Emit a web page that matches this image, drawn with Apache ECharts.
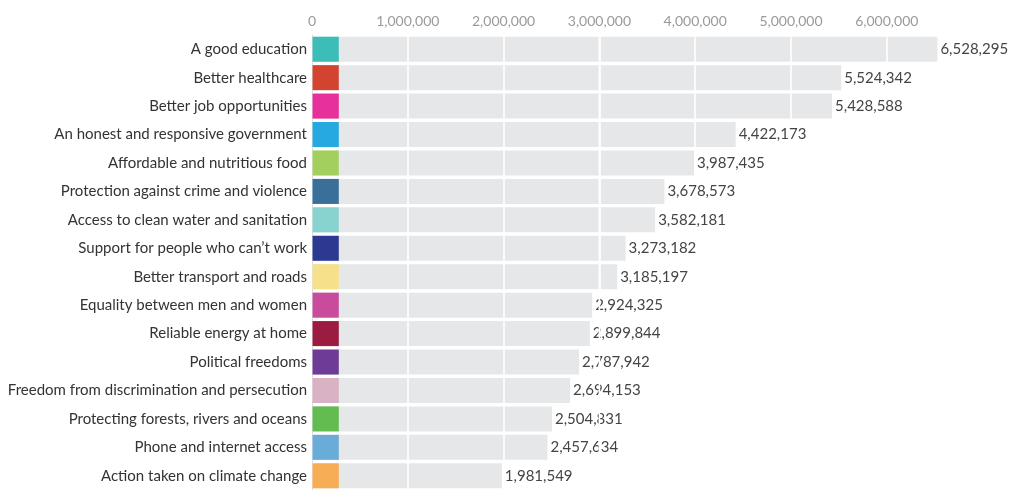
<!DOCTYPE html>
<html>
<head>
<meta charset="utf-8">
<script src="https://cdn.jsdelivr.net/npm/echarts@6/dist/echarts.min.js"></script>
<style>
html,body{margin:0;padding:0;background:#fff;}
#chart{width:1009px;height:490px;}
</style>
</head>
<body>
<div id="chart"></div>
<script>
var categories = [
  "A good education",
  "Better healthcare",
  "Better job opportunities",
  "An honest and responsive government",
  "Affordable and nutritious food",
  "Protection against crime and violence",
  "Access to clean water and sanitation",
  "Support for people who can\u2019t work",
  "Better transport and roads",
  "Equality between men and women",
  "Reliable energy at home",
  "Political freedoms",
  "Freedom from discrimination and persecution",
  "Protecting forests, rivers and oceans",
  "Phone and internet access",
  "Action taken on climate change"
];
var votes = [6528295, 5524342, 5428588, 4422173, 3987435, 3678573, 3582181, 3273182, 3185197, 2924325, 2899844, 2787942, 2694153, 2504831, 2457634, 1981549];
var swatchColors = ["#3cbdb8", "#d2442f", "#e8309a", "#26a8e0", "#a3cf5f", "#3a6f9a", "#88d3cf", "#2b3990", "#f6e08a", "#c94c9c", "#9b1c40", "#6e3b96", "#d9b2c4", "#63bc50", "#6aacd8", "#f7ad55"];
var tickValues = [0, 1000000, 2000000, 3000000, 4000000, 5000000, 6000000];
var tickLabels = ["0", "1,000,000", "2,000,000", "3,000,000", "4,000,000", "5,000,000", "6,000,000"];
var overLabelGridValues = [3000000];

var chart = echarts.init(document.getElementById('chart'));
var font = 'Lato, "Noto Sans", sans-serif';

chart.setOption({
  animation: false,
  backgroundColor: '#ffffff',
  textStyle: { fontFamily: font },
  grid: { left: 312, right: 26.4, top: 35, height: 458.7, containLabel: false },
  xAxis: {
    type: 'value',
    position: 'top',
    min: 0,
    max: 7000000,
    interval: 1000000,
    z: 5,
    axisLine: { show: false },
    axisTick: { show: false },
    splitLine: { show: true, showMinLine: false, showMaxLine: false, lineStyle: { color: '#ffffff', width: 1.6 } },
    axisLabel: {
      color: '#9a9a9a',
      fontSize: 14,
      fontFamily: font,
      margin: 7,
      showMaxLabel: false,
      formatter: function (v) {
        var i = tickValues.indexOf(v);
        return i >= 0 ? tickLabels[i] : '';
      }
    }
  },
  yAxis: {
    type: 'category',
    inverse: true,
    data: categories,
    z: 1,
    axisLine: { show: true, lineStyle: { color: '#dddddd', width: 1 } },
    axisTick: { show: false },
    axisLabel: { color: '#333333', fontSize: 15, fontFamily: font, margin: 5 }
  },
  series: [
    {
      type: 'bar',
      data: votes,
      barCategoryGap: '12%',
      z: 2,
      itemStyle: { color: '#e6e7e8' }
    },
    {
      type: 'bar',
      data: votes,
      barCategoryGap: '12%',
      barGap: '-100%',
      z: 10,
      silent: true,
      itemStyle: { color: 'rgba(0,0,0,0)' },
      label: {
        show: true,
        position: 'right',
        distance: 3,
        color: '#444444',
        fontSize: 15,
        fontFamily: font,
        formatter: function (p) { return p.value.toLocaleString('en-US'); }
      }
    },
    {
      type: 'custom',
      z: 3,
      data: categories.map(function (c, i) { return [0, i]; }),
      encode: { x: 0, y: 1 },
      renderItem: function (params, api) {
        var p = api.coord([api.value(0), api.value(1)]);
        var h = api.size([0, 1])[1] * 0.88;
        return {
          type: 'rect',
          shape: { x: p[0] + 0.5, y: p[1] - h / 2, width: 26.3, height: h },
          style: { fill: swatchColors[params.dataIndex] }
        };
      }
    },
    {
      type: 'custom',
      z: 20,
      silent: true,
      data: overLabelGridValues.map(function (v) { return [v, 0]; }),
      encode: { x: 0, y: 1 },
      renderItem: function (params, api) {
        var x = api.coord([api.value(0), 0])[0];
        var cs = params.coordSys;
        return {
          type: 'line',
          shape: { x1: x, y1: cs.y, x2: x, y2: cs.y + cs.height },
          style: { stroke: '#ffffff', lineWidth: 1.6 }
        };
      }
    }
  ]
});
</script>
</body>
</html>
